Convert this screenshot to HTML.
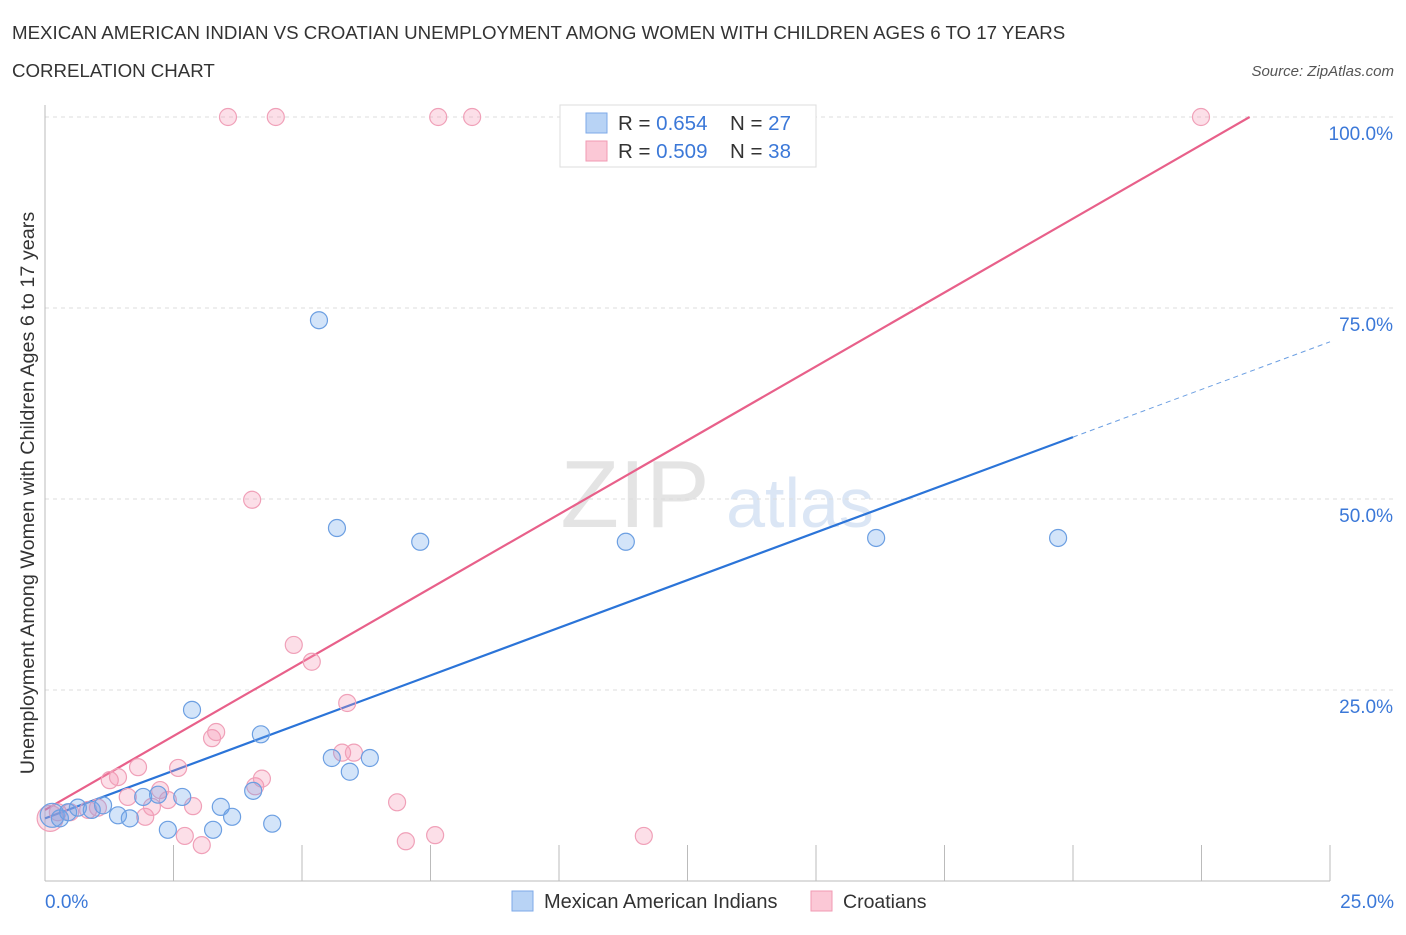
<!DOCTYPE html>
<html><head><meta charset="utf-8"><style>
body{margin:0;background:#fff;width:1406px;height:930px;overflow:hidden;font-family:"Liberation Sans",sans-serif}
svg text{font-family:"Liberation Sans",sans-serif}
</style></head><body>
<svg id="chart" width="1406" height="930">
<text x="12" y="39" font-size="18.7" fill="#333">MEXICAN AMERICAN INDIAN VS CROATIAN UNEMPLOYMENT AMONG WOMEN WITH CHILDREN AGES 6 TO 17 YEARS</text>
<text x="12" y="77" font-size="18.7" fill="#333">CORRELATION CHART</text>
<text x="1394" y="76" font-size="15" fill="#555" font-style="italic" text-anchor="end">Source: ZipAtlas.com</text>
<text x="635" y="527" font-size="96" fill="#e4e4e4" font-family="Liberation Serif" text-anchor="middle">ZIP</text>
<text x="800" y="527" font-size="70" fill="#dbe6f5" text-anchor="middle">atlas</text>
<text transform="translate(34,493) rotate(-90)" font-size="19.8" fill="#333" text-anchor="middle">Unemployment Among Women with Children Ages 6 to 17 years</text>
<g id="grid"></g><g id="ticks"></g><g id="lines"></g><g id="pts"></g>
<g>
<rect x="560" y="105" width="256" height="62" fill="#fff" stroke="#ddd"/>
<rect x="586" y="113" width="21" height="20" fill="#b8d3f5" stroke="#7eaae8"/>
<rect x="586" y="141" width="21" height="20" fill="#fbc8d6" stroke="#f09ab3"/>
<text x="618" y="130" font-size="20.5" fill="#333">R = <tspan fill="#3b78d8">0.654</tspan><tspan x="730">N = </tspan><tspan fill="#3b78d8">27</tspan></text>
<text x="618" y="158" font-size="20.5" fill="#333">R = <tspan fill="#3b78d8">0.509</tspan><tspan x="730">N = </tspan><tspan fill="#3b78d8">38</tspan></text>
</g>
<g>
<rect x="512" y="891" width="21" height="20" fill="#b8d3f5" stroke="#7eaae8"/>
<text x="544" y="908" font-size="20" fill="#333">Mexican American Indians</text>
<rect x="811" y="891" width="21" height="20" fill="#fbc8d6" stroke="#f09ab3"/>
<text x="843" y="908" font-size="19.5" fill="#333">Croatians</text>
</g>
</svg>
<script>
const blueX=[0.14,0.29,0.45,0.64,0.91,1.13,1.42,1.65,1.91,2.20,2.39,2.67,2.86,3.27,3.42,3.64,4.05,4.20,4.42,5.33,5.58,5.68,5.93,6.32,7.30,11.30,16.17,19.71];
const blueY=[8.6,8.2,9.0,9.6,9.3,9.9,8.6,8.2,11.0,11.3,6.7,11.0,22.4,6.7,9.7,8.4,11.8,19.2,7.5,73.4,16.1,46.2,14.3,16.1,44.4,44.4,44.9,44.9];
const pinkX=[0.10,0.25,0.49,0.84,1.03,1.26,1.42,1.61,1.81,1.95,2.08,2.24,2.39,2.59,2.72,2.88,3.05,3.25,3.33,3.56,4.03,4.09,4.22,4.49,4.84,5.19,5.78,5.88,6.01,6.85,7.02,7.59,7.65,8.31,11.65,22.49];
const pinkY=[8.2,9.0,9.0,9.3,9.6,13.2,13.6,11.0,14.9,8.4,9.7,11.9,10.6,14.8,5.9,9.8,4.7,18.7,19.5,100,49.9,12.4,13.4,100,30.9,28.7,16.8,23.3,16.8,10.3,5.2,6.0,100,100,5.9,100];
const blueFit=[8.2,2.495];
const pinkFit=[9.3,3.87];
const yTicks=[25,50,75,100];
const xTickVals=[0,2.5,5,7.5,10,12.5,15,17.5,20,22.5,25];
const NS='http://www.w3.org/2000/svg';
const sx=v=>45+v*51.4, sy=v=>881-v*7.64;
function mk(p,t,a){const e=document.createElementNS(NS,t);for(const k in a)e.setAttribute(k,a[k]);p.appendChild(e);return e;}
const grid=document.getElementById('grid'),ticks=document.getElementById('ticks'),lines=document.getElementById('lines'),pts=document.getElementById('pts');
yTicks.forEach(v=>{
 const l=mk(grid,'line',{x1:45,x2:1394,y1:sy(v),y2:sy(v),stroke:'#ddd','stroke-dasharray':'4,4'});
 
 
 const t=mk(ticks,'text',{x:1393,y:sy(v)+23,'font-size':19,fill:'#3b78d8','text-anchor':'end'});
 t.textContent=v.toFixed(1)+'%';
 
 
});
const ax=mk(ticks,'line',{x1:45,x2:1330,y1:881,y2:881,stroke:'#bbb'});


const ay=mk(ticks,'line',{x1:45,x2:45,y1:105,y2:881,stroke:'#bbb'});


xTickVals.forEach(v=>{
 const l=mk(ticks,'line',{x1:sx(v),x2:sx(v),y1:845,y2:881,stroke:'#bbb'});
 
 
});
[[0,'start',45],[25,'end',1394]].forEach(([v,a,x])=>{
 const t=mk(ticks,'text',{x:x,y:908,'font-size':19,fill:'#3b78d8','text-anchor':a});
 t.textContent=v.toFixed(1)+'%';
 
 
});
function dot(x,y,fill,stroke,name,r){
 const c=mk(pts,'circle',{cx:sx(x),cy:sy(y),r:r,fill:fill,stroke:stroke,'stroke-width':1.2});
 
 
}
pinkX.forEach((x,i)=>dot(x,pinkY[i],'rgba(244,150,180,0.3)','#f0a0b8','point-croatian',i==0?13:8.5));
blueX.forEach((x,i)=>dot(x,blueY[i],'rgba(110,165,235,0.3)','#6c9fe2','point-mexican',i==0?12:8.5));
let l1=mk(lines,'line',{x1:sx(0),y1:sy(pinkFit[0]),x2:sx((100-pinkFit[0])/pinkFit[1]),y2:sy(100),stroke:'#e8608a','stroke-width':2.2});


let l2=mk(lines,'line',{x1:sx(0),y1:sy(blueFit[0]),x2:sx(20),y2:sy(blueFit[0]+20*blueFit[1]),stroke:'#2b74d8','stroke-width':2.2});


let l3=mk(lines,'line',{x1:sx(20),y1:sy(blueFit[0]+20*blueFit[1]),x2:sx(25),y2:sy(blueFit[0]+25*blueFit[1]),stroke:'#6c9fe2','stroke-width':1,'stroke-dasharray':'5,4'});


</script>
</body></html>
